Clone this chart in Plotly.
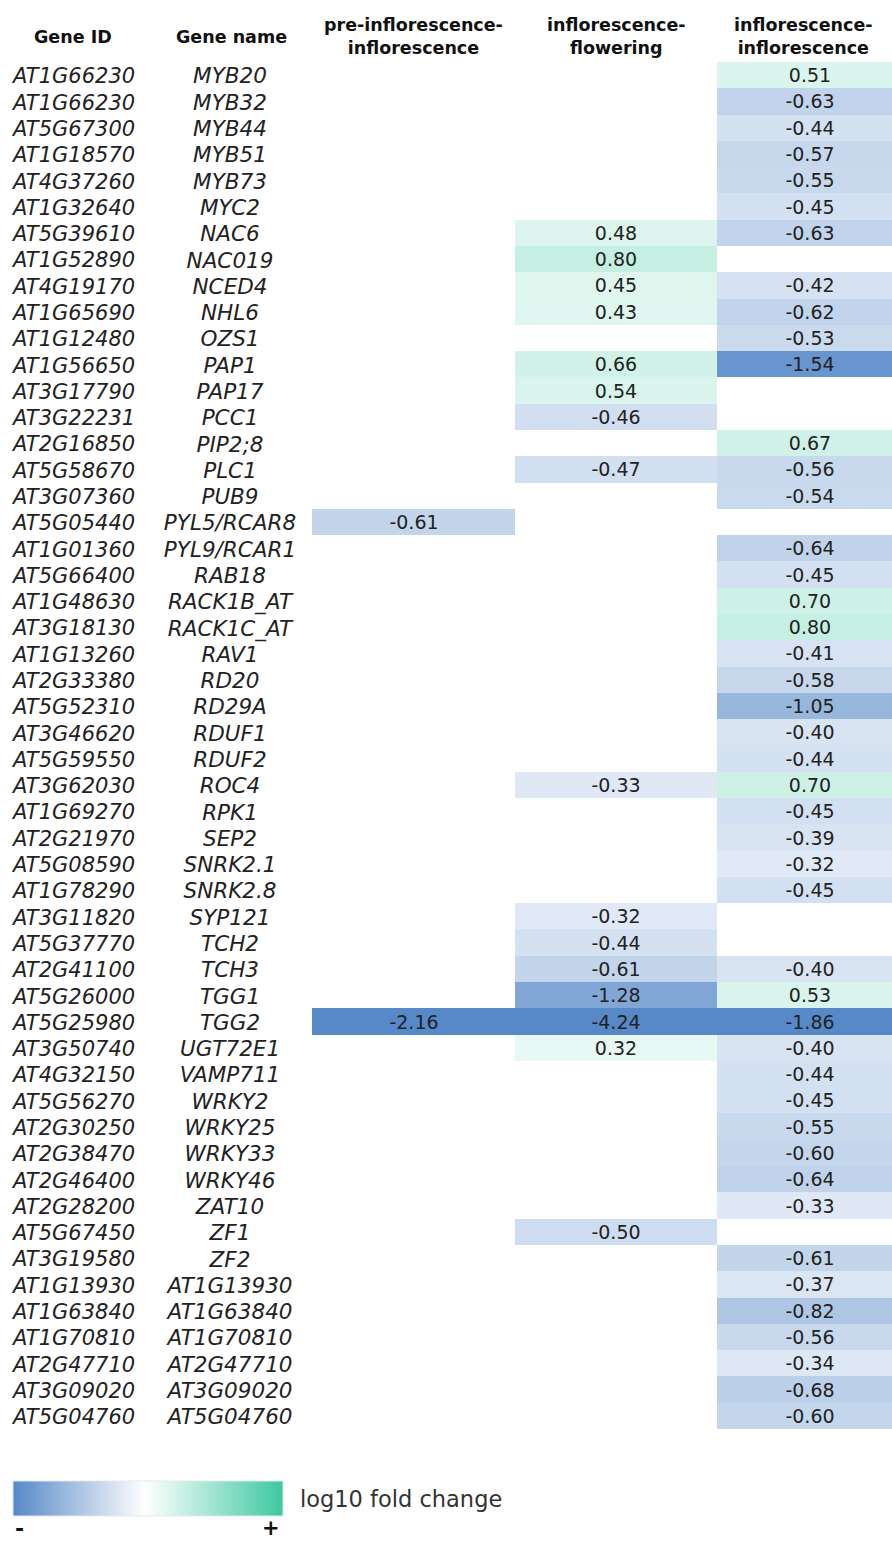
import plotly.graph_objects as go

gene_ids = [
    "AT1G66230", "AT1G66230", "AT5G67300", "AT1G18570", "AT4G37260", "AT1G32640",
    "AT5G39610", "AT1G52890", "AT4G19170", "AT1G65690", "AT1G12480", "AT1G56650",
    "AT3G17790", "AT3G22231", "AT2G16850", "AT5G58670", "AT3G07360", "AT5G05440",
    "AT1G01360", "AT5G66400", "AT1G48630", "AT3G18130", "AT1G13260", "AT2G33380",
    "AT5G52310", "AT3G46620", "AT5G59550", "AT3G62030", "AT1G69270", "AT2G21970",
    "AT5G08590", "AT1G78290", "AT3G11820", "AT5G37770", "AT2G41100", "AT5G26000",
    "AT5G25980", "AT3G50740", "AT4G32150", "AT5G56270", "AT2G30250", "AT2G38470",
    "AT2G46400", "AT2G28200", "AT5G67450", "AT3G19580", "AT1G13930", "AT1G63840",
    "AT1G70810", "AT2G47710", "AT3G09020", "AT5G04760",
]
gene_names = [
    "MYB20", "MYB32", "MYB44", "MYB51", "MYB73", "MYC2",
    "NAC6", "NAC019", "NCED4", "NHL6", "OZS1", "PAP1",
    "PAP17", "PCC1", "PIP2;8", "PLC1", "PUB9", "PYL5/RCAR8",
    "PYL9/RCAR1", "RAB18", "RACK1B_AT", "RACK1C_AT", "RAV1", "RD20",
    "RD29A", "RDUF1", "RDUF2", "ROC4", "RPK1", "SEP2",
    "SNRK2.1", "SNRK2.8", "SYP121", "TCH2", "TCH3", "TGG1",
    "TGG2", "UGT72E1", "VAMP711", "WRKY2", "WRKY25", "WRKY33",
    "WRKY46", "ZAT10", "ZF1", "ZF2", "AT1G13930", "AT1G63840",
    "AT1G70810", "AT2G47710", "AT3G09020", "AT5G04760",
]
N = None
pre_infl_infl = [
    N, N, N, N, N, N, N, N, N, N, N, N, N, N, N, N, N, -0.61,
    N, N, N, N, N, N, N, N, N, N, N, N, N, N, N, N, N, N,
    -2.16, N, N, N, N, N, N, N, N, N, N, N, N, N, N, N,
]
infl_flowering = [
    N, N, N, N, N, N, 0.48, 0.80, 0.45, 0.43, N, 0.66, 0.54, -0.46, N, -0.47, N, N,
    N, N, N, N, N, N, N, N, N, -0.33, N, N, N, N, -0.32, -0.44, -0.61, -1.28,
    -4.24, 0.32, N, N, N, N, N, N, -0.50, N, N, N, N, N, N, N,
]
infl_infl = [
    0.51, -0.63, -0.44, -0.57, -0.55, -0.45, -0.63, N, -0.42, -0.62, -0.53, -1.54,
    N, N, 0.67, -0.56, -0.54, N, -0.64, -0.45, 0.70, 0.80, -0.41, -0.58,
    -1.05, -0.40, -0.44, 0.70, -0.45, -0.39, -0.32, -0.45, N, N, -0.40, 0.53,
    -1.86, -0.40, -0.44, -0.45, -0.55, -0.60, -0.64, -0.33, N, -0.61, -0.37, -0.82,
    -0.56, -0.34, -0.68, -0.60,
]
headers = ["Gene ID", "Gene name", "pre-inflorescence-<br>inflorescence",
           "inflorescence-<br>flowering", "inflorescence-<br>inflorescence"]

W, H = 892, 1541
ROW0, ROWH = 75.1, 26.29           # pixel centre of first row, row height
LABEL_SHIFT = 3                    # gene labels sit a few px lower than cell centres
COL_EDGES = [312, 515, 717, 903]   # heatmap column edges in px
FONT = "DejaVu Sans"
BLUE, WHITE, GREEN = "#5789C8", "#FFFFFF", "#3DC8A0"
ZMIN, ZMAX = -1.72, 2.7
cell_scale = [[0, BLUE], [-ZMIN / (ZMAX - ZMIN), WHITE], [1, GREEN]]
legend_scale = [[0, BLUE], [0.49, WHITE], [1, GREEN]]


def px(x, y):
    # pixel -> paper coords
    return x / W, 1 - y / H


rows = list(range(len(gene_ids)))
fig = go.Figure()

for i, col in enumerate([pre_infl_infl, infl_flowering, infl_infl]):
    fig.add_trace(
        go.Heatmap(
            x=[COL_EDGES[i], COL_EDGES[i + 1]],
            y=rows,
            z=[[v] for v in col],
            text=[["" if v is None else f"{v:.2f}"] for v in col],
            texttemplate="%{text}",
            textfont=dict(family=FONT, size=19, color="#222222"),
            colorscale=cell_scale,
            zmin=ZMIN,
            zmax=ZMAX,
            showscale=False,
            hoverinfo="skip",
        )
    )

fig.add_trace(
    go.Scatter(
        x=[13] * len(rows), y=rows, text=gene_ids, mode="text", yaxis="y2",
        textposition="middle right",
        textfont=dict(family=FONT, size=21, color="#222222", style="italic"),
        hoverinfo="skip", showlegend=False,
    )
)
fig.add_trace(
    go.Scatter(
        x=[230] * len(rows), y=rows, text=gene_names, mode="text", yaxis="y2",
        textposition="middle center",
        textfont=dict(family=FONT, size=21.5, color="#222222", style="italic"),
        hoverinfo="skip", showlegend=False,
    )
)

# gradient legend
cx, cy = px(13, 1481)
fig.add_trace(
    go.Scatter(
        x=[None], y=[None], mode="markers", showlegend=False, hoverinfo="skip",
        marker=dict(
            color=[0], cmin=-1, cmax=1, colorscale=legend_scale, showscale=True,
            colorbar=dict(
                orientation="h", x=cx, xanchor="left", y=cy, yanchor="top",
                len=270, lenmode="pixels", thickness=35, thicknessmode="pixels",
                xpad=0, ypad=0, outlinewidth=1, outlinecolor="#E3E8EF",
                showticklabels=False, ticks="",
            ),
        ),
    )
)

header_x = [73, 231, 413.5, 616, 803]
for hx, label in zip(header_x, headers):
    ax, ay = px(hx, 36.5)
    fig.add_annotation(
        x=ax, y=ay, xref="paper", yref="paper",
        text=f"<b>{label.replace('<br>', '</b><br><b>')}</b>",
        showarrow=False, xanchor="center", yanchor="middle",
        font=dict(family=FONT, size=17.5, color="#111111"),
    )

ax, ay = px(298, 1499)
fig.add_annotation(x=ax, y=ay, xref="paper", yref="paper", text="log10 fold change",
                   showarrow=False, xanchor="left", yanchor="middle",
                   font=dict(family=FONT, size=22.5, color="#333333"))
ax, ay = px(19, 1528)
fig.add_annotation(x=ax, y=ay, xref="paper", yref="paper", text="<b>-</b>",
                   showarrow=False, xanchor="center", yanchor="middle",
                   font=dict(family=FONT, size=22, color="#111111"))
ax, ay = px(271, 1528)
fig.add_annotation(x=ax, y=ay, xref="paper", yref="paper", text="<b>+</b>",
                   showarrow=False, xanchor="center", yanchor="middle",
                   font=dict(family=FONT, size=21, color="#111111"))

lab0 = ROW0 + LABEL_SHIFT
fig.update_layout(
    width=W, height=H,
    margin=dict(l=0, r=0, t=0, b=0),
    paper_bgcolor="white", plot_bgcolor="white",
    showlegend=False,
    xaxis=dict(range=[0, W], visible=False, fixedrange=True),
    yaxis=dict(range=[(H - ROW0) / ROWH, -ROW0 / ROWH], visible=False, fixedrange=True),
    yaxis2=dict(range=[(H - lab0) / ROWH, -lab0 / ROWH], overlaying="y",
                visible=False, fixedrange=True),
)

# drop the default page margin so the figure sits at the window's corner
fig.write_html(
    "out.html",
    config={"displayModeBar": False},
    post_script="document.body.style.margin='0';document.body.style.overflow='hidden';",
)
